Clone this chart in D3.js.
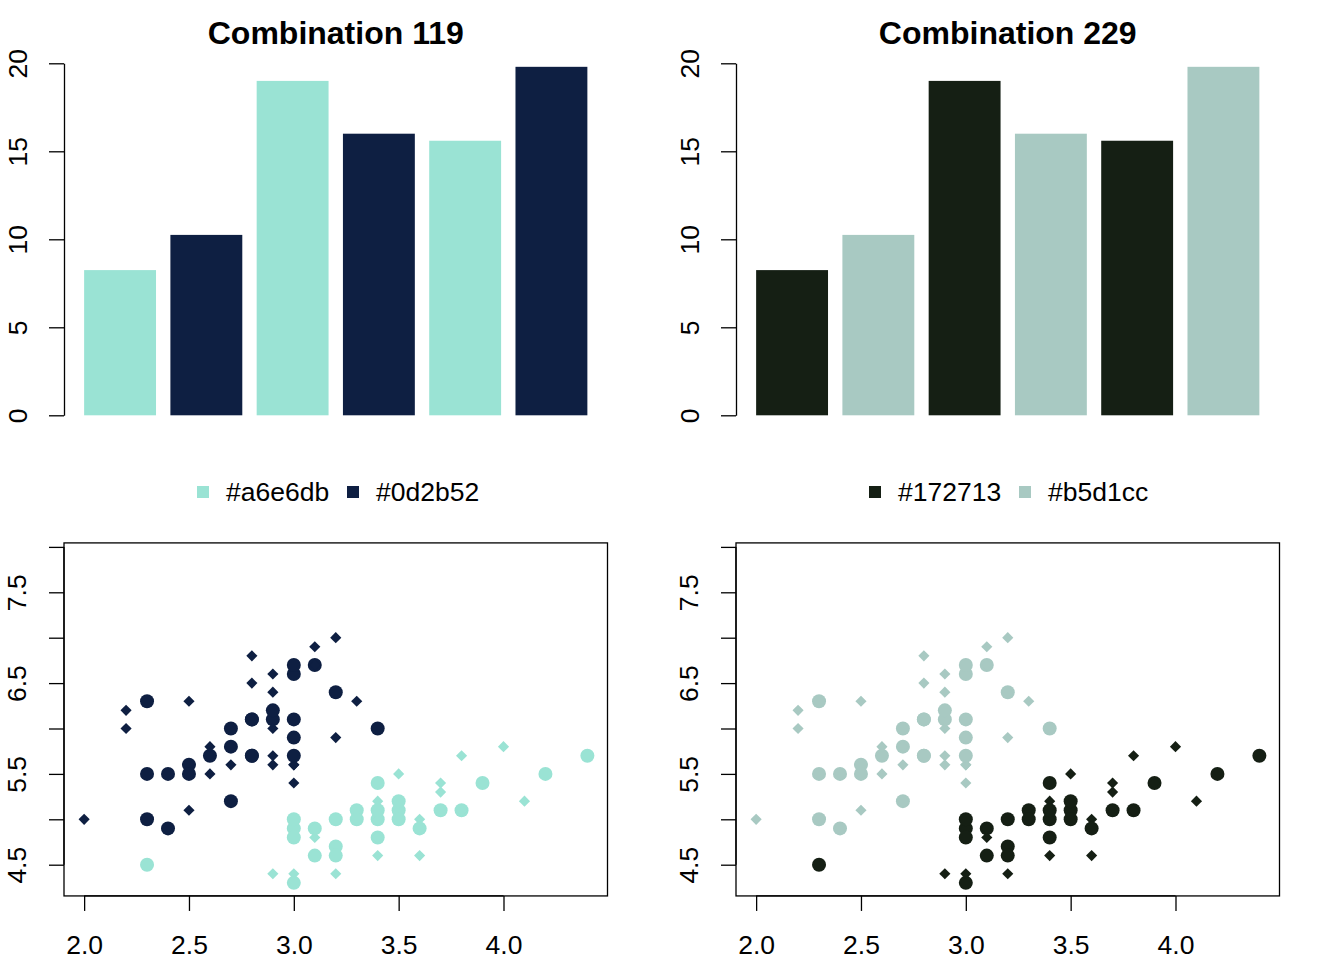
<!DOCTYPE html>
<html><head><meta charset="utf-8">
<script src="https://cdn.jsdelivr.net/npm/d3@7"></script>
<style>body{margin:0;background:#fff}svg{display:block}text{font-family:"Liberation Sans",Arial,sans-serif;fill:#000}</style>
</head><body><svg id="c" width="1344" height="960"></svg>
<script>
// ---- data ----
const barValues = [8.25, 10.25, 19.0, 16.0, 15.6, 19.8];
const barTicks = [0, 5, 10, 15, 20];
const titles = ["Combination 119", "Combination 229"];
const legendLabels = [["#a6e6db", "#0d2b52"], ["#172713", "#b5d1cc"]];
const panelColors = [["#9ae3d4", "#0e1f42"], ["#151f14", "#a8c9c2"]];
// iris: setosa (rows 1-50) then versicolor (rows 51-100)
const sepalWidth = [3.5,3.0,3.2,3.1,3.6,3.9,3.4,3.4,2.9,3.1,3.7,3.4,3.0,3.0,4.0,4.4,3.9,3.5,3.8,3.8,3.4,3.7,3.6,3.3,3.4,3.0,3.4,3.5,3.4,3.2,3.1,3.4,4.1,4.2,3.1,3.2,3.5,3.6,3.0,3.4,3.5,2.3,3.2,3.5,3.8,3.0,3.8,3.2,3.7,3.3,
 3.2,3.2,3.1,2.3,2.8,2.8,3.3,2.4,2.9,2.7,2.0,3.0,2.2,2.9,2.9,3.1,3.0,2.7,2.2,2.5,3.2,2.8,2.5,2.8,2.9,3.0,2.8,3.0,2.9,2.6,2.4,2.4,2.7,2.7,3.0,3.4,3.1,2.3,3.0,2.5,2.6,3.0,2.6,2.3,2.7,3.0,2.9,2.9,2.5,2.8];
const sepalLength = [5.1,4.9,4.7,4.6,5.0,5.4,4.6,5.0,4.4,4.9,5.4,4.8,4.8,4.3,5.8,5.7,5.4,5.1,5.7,5.1,5.4,5.1,4.6,5.1,4.8,5.0,5.0,5.2,5.2,4.7,4.8,5.4,5.2,5.5,4.9,5.0,5.5,4.9,4.4,5.1,5.0,4.5,4.4,5.0,5.1,4.8,5.1,4.6,5.3,5.0,
 7.0,6.4,6.9,5.5,6.5,5.7,6.3,4.9,6.6,5.2,5.0,5.9,6.0,6.1,5.6,6.7,5.6,5.8,6.2,5.6,5.9,6.1,6.3,6.1,6.4,6.6,6.8,6.7,6.0,5.7,5.5,5.5,5.8,6.0,5.4,6.0,6.7,6.3,5.6,5.5,5.5,6.1,5.8,5.0,5.6,5.7,5.7,6.2,5.1,5.7];
const species = sepalWidth.map((d, i) => i < 50 ? 0 : 1);
const xTicks = [2.0, 2.5, 3.0, 3.5, 4.0];
const yTicks = [4.5, 5.0, 5.5, 6.0, 6.5, 7.0, 7.5, 8.0];
const yTickLabels = ["4.5", "", "5.5", "", "6.5", "", "7.5", ""];

const svg = d3.select("#c");
const FS = 26.5;

[0, 1].forEach(p => {
  const off = p * 672;
  const cols = panelColors[p];
  const g = svg.append("g").attr("transform", `translate(${off},0)`);
  const L = 64, R = 607.5;

  // title
  g.append("text").attr("x", (L + R) / 2).attr("y", 44).attr("text-anchor", "middle")
    .attr("font-size", 32).attr("font-weight", "bold").text(titles[p]);

  // bar chart
  const xb = d3.scaleLinear().domain([-0.08, 7.48]).range([L, R]);
  const yb = d3.scaleLinear().domain([0, 20]).range([415.3, 63.3]);
  g.selectAll("rect.bar").data(barValues).join("rect").attr("class", "bar")
    .attr("x", (d, i) => xb(0.2 + 1.2 * i)).attr("width", xb(1) - xb(0))
    .attr("y", d => yb(d)).attr("height", d => yb(0) - yb(d))
    .attr("fill", (d, i) => cols[i % 2]);
  const ay = d3.axisLeft(yb).tickValues(barTicks).tickSize(15).tickSizeOuter(0).tickPadding(0).tickFormat(d3.format("d"));
  const ga = g.append("g").attr("transform", `translate(${L},0)`).call(ay);
  ga.select(".domain").attr("stroke", "#000").attr("stroke-width", 1.3);
  ga.selectAll(".tick line").attr("stroke", "#000").attr("stroke-width", 1.3);
  ga.selectAll(".tick text").attr("font-size", FS).attr("text-anchor", "middle")
    .attr("x", 0).attr("dy", 0).attr("y", 0)
    .attr("transform", `translate(${27 - L},0) rotate(-90)`);

  // legend
  const lg = g.append("g");
  const lx = [203, 353];
  legendLabels[p].forEach((lab, i) => {
    lg.append("rect").attr("x", lx[i] - 6).attr("y", 486).attr("width", 12).attr("height", 12).attr("fill", cols[i]);
    lg.append("text").attr("x", lx[i] + 23).attr("y", 501).attr("font-size", FS).text(lab);
  });

  // scatter
  const xs = d3.scaleLinear().domain([1.904, 4.496]).range([L, R]);
  const ys = d3.scaleLinear().domain([4.5, 8.0]).range([864.7, 546.9]);
  const top = ys(8.044), bot = ys(4.156);
  g.append("rect").attr("x", L).attr("y", top).attr("width", R - L).attr("height", bot - top)
    .attr("fill", "none").attr("stroke", "#000").attr("stroke-width", 1.3);
  const ax = d3.axisBottom(xs).tickValues(xTicks).tickSize(15).tickSizeOuter(0).tickPadding(0).tickFormat(d3.format(".1f"));
  const gx = g.append("g").attr("transform", `translate(0,${bot})`).call(ax);
  gx.select(".domain").attr("d", `M${xs(2)},0H${xs(4)}`).attr("stroke", "#000").attr("stroke-width", 1.3);
  gx.selectAll(".tick line").attr("stroke", "#000").attr("stroke-width", 1.3);
  gx.selectAll(".tick text").attr("font-size", FS).attr("dy", 0).attr("y", 954 - bot);
  const ays = d3.axisLeft(ys).tickValues(yTicks).tickSize(15).tickSizeOuter(0).tickPadding(0)
    .tickFormat((d, i) => yTickLabels[i]);
  const gy = g.append("g").attr("transform", `translate(${L},0)`).call(ays);
  gy.select(".domain").attr("d", `M0,${ys(4.5)}V${ys(8.0)}`).attr("stroke", "#000").attr("stroke-width", 1.3);
  gy.selectAll(".tick line").attr("stroke", "#000").attr("stroke-width", 1.3);
  gy.selectAll(".tick text").attr("font-size", FS).attr("text-anchor", "middle")
    .attr("x", 0).attr("dy", 0).attr("y", 0)
    .attr("transform", `translate(${26 - L},0) rotate(-90)`);

  const idx = d3.range(sepalWidth.length);
  const diamond = d3.symbol().type(d3.symbolDiamond2).size(2 * 6.3 * 6.3);
  const circle = d3.symbol().type(d3.symbolCircle).size(Math.PI * 7 * 7);
  g.append("g").selectAll("path").data(idx).join("path")
    .attr("transform", i => `translate(${xs(sepalWidth[i])},${ys(sepalLength[i])})`)
    .attr("d", i => (i % 2 === 0) ? diamond() : circle())
    .attr("fill", i => cols[species[i]]);
});
</script></body></html>
